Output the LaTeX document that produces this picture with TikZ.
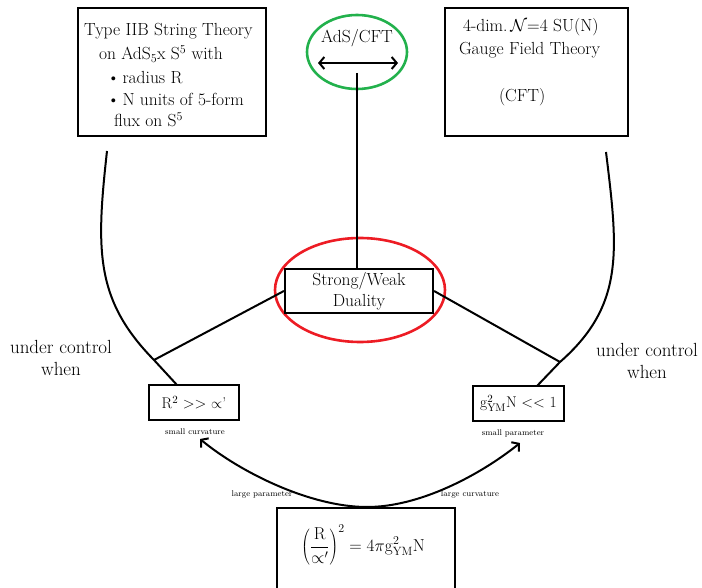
\documentclass[tikz,border=0pt]{standalone}
\usetikzlibrary{shapes.geometric,arrows.meta}
\definecolor{paintred}{RGB}{237,28,36}
\definecolor{paintgreen}{RGB}{34,177,76}
\tikzset{
  box/.style={draw,line width=2.2pt,inner sep=0pt},
  txt/.style={anchor=west,inner sep=0pt},
  ring/.style={draw,ellipse,line width=2.6pt,inner sep=0pt},
  tiny/.style={font=\fontsize{8.3}{9}\selectfont,inner sep=0pt},
  cond/.style={box,minimum height=35pt,font=\fontsize{15.5}{18}\selectfont}
}
\begin{document}
\begin{tikzpicture}[x=1pt,y=-1pt,line width=2pt,font=\fontsize{17.5}{21}\selectfont,>={Straight Barb[length=5pt,width=12pt]}]
\useasboundingbox (0,0) rectangle (702,588);

\node[box,minimum width=188pt,minimum height=128pt] (iib) at (172,72) {};
\node[txt] (iib1) at (83,31) {Type IIB String Theory};
\node[txt] (iib2) at (98,54) {on AdS$_5$x S$^5$ with};
\foreach \y/\ytext in {78/radius R,99/N units of 5-form}
\node[txt] (bul\y) at (106,\y) {\textbullet\,\ytext};
\node[txt] (iib5) at (113,120) {flux on S$^5$};

\node[box,minimum width=183pt,minimum height=128pt] (cft) at (536.5,72) {};
\node[txt] (cft1) at (462,27) {4-dim.\,$\mathcal{N}$=4 SU(N)};
\node[txt] (cft2) at (458,50) {Gauge Field Theory};
\node[txt] (cft3) at (498,97) {(CFT)};

\node[ring,draw=paintgreen,minimum width=100pt,minimum height=74pt] (ads) at (357,52) {};
\node (adstext) at (357,38) {AdS/CFT};
\coordinate (arl) at (318,63);
\coordinate (arr) at (398,63);
\draw[<->] (arl) -- (arr);
\coordinate (adsfoot) at (357,73);

\node[ring,draw=paintred,minimum width=170pt,minimum height=104pt] (ring) at (360,290) {};
\node[box,minimum width=148pt,minimum height=44pt,align=center] (duality) at (359,291) {Strong/Weak\\Duality};
\draw (adsfoot) -- (adsfoot |- duality.north);

\node[cond,minimum width=90pt] (rsq) at (194,402.5) {R$^2$ >{}> $\propto$'};
\node[cond,minimum width=91pt] (gym) at (518.5,403.5) {g$^2_{\mathrm{YM}}$N <{}< 1};

\coordinate (ltop) at (107,151);
\coordinate (ljoin) at (154,360);
\coordinate (lfoot) at (177,385);
\coordinate (rtop) at (606,152);
\coordinate (rjoin) at (560,362);
\coordinate (rfoot) at (537,386);
\draw (ltop) .. controls (96,250) and (95,300) .. (ljoin) -- (lfoot);
\draw (rtop) .. controls (618,250) and (625,305) .. (rjoin) -- (rfoot);
\draw (duality.west) -- (ljoin);
\draw (duality.east) -- (rjoin);

\foreach \x/\y/\n in {61/358/l,647/361/r}
\node[align=center,font=\fontsize{19}{22}\selectfont] (ctl\n) at (\x,\y) {under control\\when};

\foreach \x/\y/\t/\n in {195/432/small curvature/sc,513/433/small parameter/sp,262/494/large parameter/lp,470/494/large curvature/lc}
\node[tiny] (\n) at (\x,\y) {\t};

\node[box,minimum width=178pt,minimum height=92pt] (eqbox) at (366,554) {};
\node (eq) at (363,545) {$\displaystyle\left(\frac{\mathrm{R}}{\propto'}\right)^{2} = 4\pi\mathrm{g}^{2}_{\mathrm{YM}}\mathrm{N}$};
\coordinate (eqtop) at (367,507);
\coordinate (ltip) at (200,439);
\coordinate (rtip) at (520,443);
\draw[->] (eqtop) .. controls (310,507) and (240,472) .. (ltip);
\draw[->] (eqtop) .. controls (420,507) and (480,475) .. (rtip);

\end{tikzpicture}
\end{document}
